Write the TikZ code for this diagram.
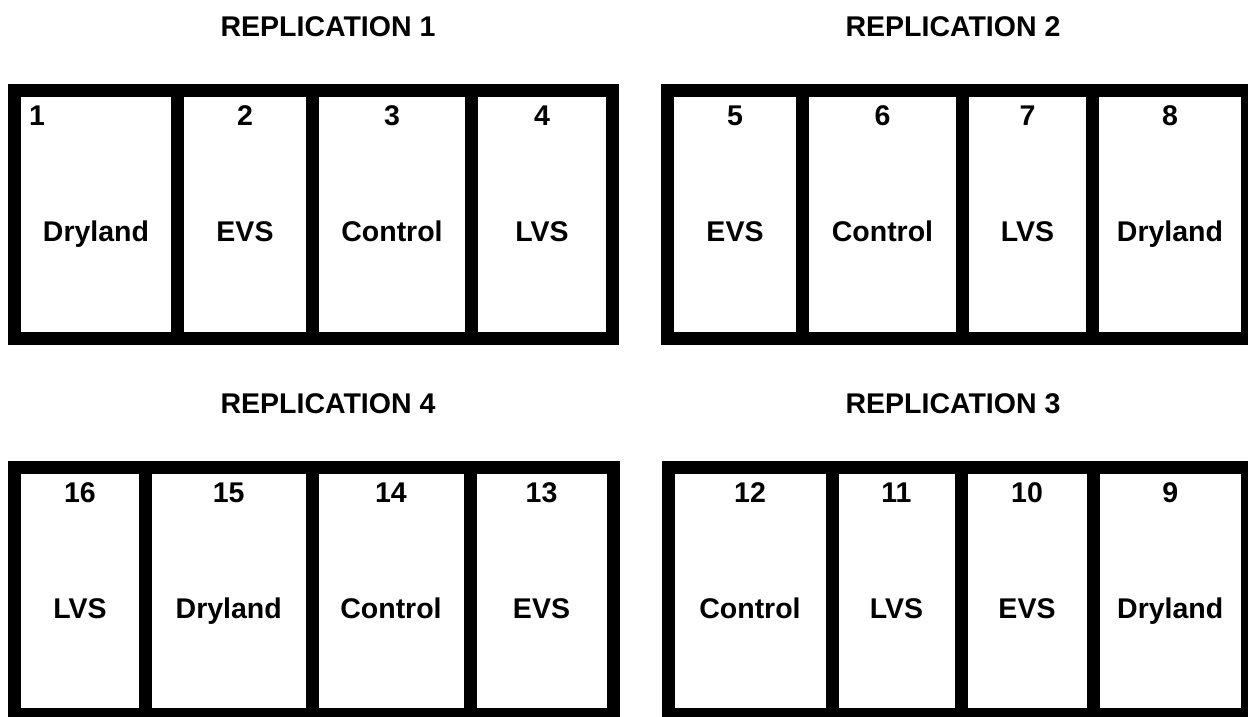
\documentclass[tikz,border=0pt]{standalone}
\usepackage{fontspec}
\setmainfont{Liberation Sans}
\tikzset{
  cellbox/.style={draw=black, line width=13pt, rectangle, inner sep=0pt, outer sep=0pt},
  plottext/.style={font=\fontsize{28.5}{32}\selectfont\bfseries, inner sep=0pt, anchor=base},
  titletext/.style={font=\fontsize{28.5}{32}\selectfont\bfseries, inner sep=0pt, anchor=base}
}
% name, x1, x2, y1, y2, number, label
\newcommand\plotcell[7]{%
  \node[cellbox, minimum width={#3pt-#2pt}, minimum height={#5pt-#4pt}] (#1) at ({(#2+#3)/2},{(#4+#5)/2}) {};
  \node[plottext] (#1n) at ({(#2+#3)/2},{#4+35}) {#6};
  \node[plottext] (#1l) at ({(#2+#3)/2},{#4+151}) {#7};
}
\begin{document}
\begin{tikzpicture}[x=1pt,y=-1pt]
\useasboundingbox (0,0) rectangle (1248,716);
\clip (0,0) rectangle (1248,716);
% titles
\node[titletext] (t1) at (328,36) {REPLICATION 1};
\node[titletext] (t2) at (953,36) {REPLICATION 2};
\node[titletext] (t4) at (328,413) {REPLICATION 4};
\node[titletext] (t3) at (953,413) {REPLICATION 3};
% replication 1
\plotcell{c1}{14.5}{177.5}{90.5}{338.5}{}{Dryland}
\plotcell{c2}{177.5}{312.5}{90.5}{338.5}{2}{EVS}
\plotcell{c3}{312.5}{471.5}{90.5}{338.5}{3}{Control}
\plotcell{c4}{471.5}{612.5}{90.5}{338.5}{4}{LVS}
\node[plottext, anchor=base west] (c1n) at (29,125.5) {1};
% replication 2
\plotcell{c5}{667.5}{802.5}{90.5}{338.5}{5}{EVS}
\plotcell{c6}{802.5}{962.5}{90.5}{338.5}{6}{Control}
\plotcell{c7}{962.5}{1092.5}{90.5}{338.5}{7}{LVS}
\plotcell{c8}{1092.5}{1247.5}{90.5}{338.5}{8}{Dryland}
% replication 4
\plotcell{c16}{14.5}{145.5}{467.5}{714.5}{16}{LVS}
\plotcell{c15}{145.5}{312}{467.5}{714.5}{15}{Dryland}
\plotcell{c14}{312}{470}{467.5}{714.5}{14}{Control}
\plotcell{c13}{470}{613}{467.5}{714.5}{13}{EVS}
% replication 3
\plotcell{c12}{668}{832}{467.5}{714.5}{12}{Control}
\plotcell{c11}{832}{961}{467.5}{714.5}{11}{LVS}
\plotcell{c10}{961}{1093}{467.5}{714.5}{10}{EVS}
\plotcell{c9}{1093}{1247.5}{467.5}{714.5}{9}{Dryland}
\end{tikzpicture}
\end{document}
